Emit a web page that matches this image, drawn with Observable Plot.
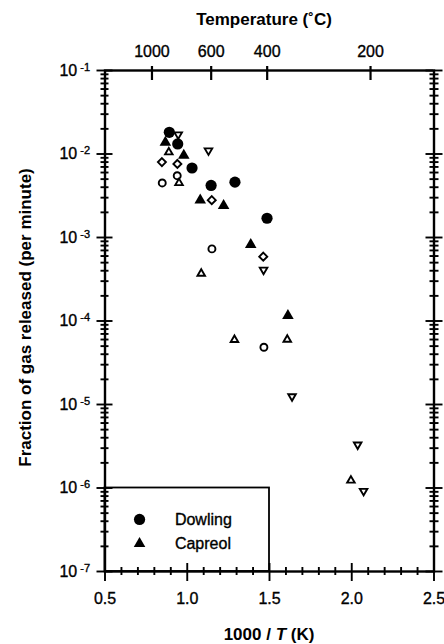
<!DOCTYPE html>
<html><head><meta charset="utf-8">
<script src="https://cdn.jsdelivr.net/npm/d3@7"></script>
<script src="https://cdn.jsdelivr.net/npm/@observablehq/plot@0.6"></script>
<style>body{margin:0;background:#fff} svg{display:block}</style>
</head><body><div id="chart"></div>
<script>
// Data: x = 1000/T (K), y = fraction of gas released per minute
const dowling = [
  {x:0.891, y:1.82e-2}, {x:0.942, y:1.32e-2}, {x:1.029, y:6.8e-3},
  {x:1.145, y:4.2e-3}, {x:1.290, y:4.6e-3}, {x:1.485, y:1.7e-3}
];
const capreol = [
  {x:0.867, y:1.38e-2}, {x:0.979, y:9.6e-3}, {x:1.079, y:2.8e-3},
  {x:1.221, y:2.4e-3}, {x:1.386, y:8.2e-4}, {x:1.612, y:1.16e-4}
];
const openCircles = [
  {x:0.848, y:4.5e-3}, {x:0.939, y:5.5e-3}, {x:1.150, y:7.3e-4}, {x:1.466, y:4.85e-5}
];
const openDiamonds = [
  {x:0.846, y:8.0e-3}, {x:0.940, y:7.6e-3}, {x:1.149, y:2.8e-3}, {x:1.462, y:5.9e-4}
];
const openUpTriangles = [
  {x:0.888, y:1.05e-2}, {x:0.950, y:4.5e-3}, {x:1.085, y:3.7e-4},
  {x:1.287, y:5.96e-5}, {x:1.608, y:6.0e-5}, {x:1.995, y:1.23e-6}
];
const openDownTriangles = [
  {x:0.945, y:1.71e-2}, {x:1.129, y:1.10e-2}, {x:1.464, y:4.1e-4},
  {x:1.637, y:1.25e-5}, {x:2.036, y:3.3e-6}, {x:2.072, y:9.2e-7}
];

// Tick labels / positions
const xMajor = [0.5, 1.0, 1.5, 2.0, 2.5];
const xMinor = [0.6,0.7,0.8,0.9,1.1,1.2,1.3,1.4,1.6,1.7,1.8,1.9,2.1,2.2,2.3,2.4];
const yMajor = [1e-1, 1e-2, 1e-3, 1e-4, 1e-5, 1e-6, 1e-7];
const yMinorMantissa = [2,3,4,5,6,7,8,9];
const yMinor = yMajor.slice(1).flatMap(p => yMinorMantissa.map(k => k * p));
const tempTicks = [1000, 600, 400, 200]; // degrees C
const tempVals = tempTicks.map(t => 1000 / (t + 273));

// Legend
const legendBox = [{x1:0.5, x2:1.5, y1:1e-7, y2:1e-6}];
const legendItems = [
  {label:"Dowling", x:0.71, tx:0.925, y:4.2e-7},
  {label:"Capreol", x:0.71, tx:0.925, y:2.16e-7}
];

const titleTop = "Temperature (˚C)";
const titleY = "Fraction of gas released (per minute)";

const W = 444, H = 644;
const mL = 104.5, mR = 10.5, mT = 70, mB = 73;
const FW = W - mL - mR, FH = H - mT - mB;

const downTriangle = {
  draw(ctx, size) {
    const s = Math.sqrt(size) * 0.6824, t = s / 2, u = s * Math.sqrt(3) / 2;
    ctx.moveTo(0, s); ctx.lineTo(-u, -t); ctx.lineTo(u, -t); ctx.closePath();
  }
};

const font = "Liberation Sans, Arial, Helvetica, sans-serif";
const sw = 1.9;
const osw = 1.9;

const chart = Plot.plot({
  width: W, height: H,
  marginLeft: mL, marginRight: mR, marginTop: mT, marginBottom: mB,
  style: {fontFamily: font, fontSize: "16px", color: "black", background: "white"},
  x: {domain: [0.5, 2.5]},
  y: {type: "log", domain: [1e-7, 1e-1]},
  marks: [
    // bottom axis
    Plot.axisX(xMajor, {anchor: "bottom", tickSize: 10, tickPadding: 11, tickFormat: d3.format(".1f"), strokeWidth: sw, fontSize: 16, label: null}),
    Plot.axisX(xMinor, {anchor: "bottom", tickSize: 4, tickFormat: () => "", strokeWidth: sw, label: null}),
    Plot.tickX(xMajor, {x: d => d, insetTop: FH - 8, strokeWidth: sw}),
    Plot.tickX(xMinor, {x: d => d, insetTop: FH - 4, strokeWidth: sw}),
    // top axis (temperature)
    Plot.axisX(tempVals, {anchor: "top", tickSize: 5, tickPadding: 9, tickFormat: v => String(Math.round(1000 / v - 273)), strokeWidth: 2.2, fontSize: 16, label: null}),
    Plot.tickX(tempVals, {x: d => d, insetBottom: FH - 10, strokeWidth: 2.2}),
    // left axis
    Plot.axisY(yMajor, {anchor: "left", tickSize: 8, tickPadding: 7, tickFormat: d => String(Math.round(Math.log10(d))), strokeWidth: sw, fontSize: 16, label: null}),
    Plot.axisY(yMinor, {anchor: "left", tickSize: 4, tickFormat: () => "", strokeWidth: sw, label: null}),
    Plot.tickY(yMajor, {y: d => d, insetRight: FW - 8, strokeWidth: sw}),
    Plot.tickY(yMinor, {y: d => d, insetRight: FW - 4, strokeWidth: sw}),
    // right axis
    Plot.axisY(yMajor, {anchor: "right", tickSize: 8, tickFormat: () => "", strokeWidth: sw, label: null}),
    Plot.axisY(yMinor, {anchor: "right", tickSize: 4, tickFormat: () => "", strokeWidth: sw, label: null}),
    Plot.tickY(yMajor, {y: d => d, insetLeft: FW - 8, strokeWidth: sw}),
    Plot.tickY(yMinor, {y: d => d, insetLeft: FW - 4, strokeWidth: sw}),
    // legend box
    Plot.rect(legendBox, {x1: "x1", x2: "x2", y1: "y1", y2: "y2", fill: "none", stroke: "black", strokeWidth: 1.8}),
    Plot.frame({stroke: "black", strokeWidth: 2.4}),
    // data
    Plot.dot(openCircles, {x: "x", y: "y", symbol: "circle", r: 3.5, stroke: "black", strokeWidth: osw, fill: "white"}),
    Plot.dot(openDiamonds, {x: "x", y: "y", symbol: "diamond2", r: 3.6, stroke: "black", strokeWidth: osw, fill: "white"}),
    Plot.dot(openUpTriangles, {x: "x", y: "y", symbol: "triangle2", r: 3.6, stroke: "black", strokeWidth: osw, fill: "white"}),
    Plot.dot(openDownTriangles, {x: "x", y: "y", symbol: downTriangle, r: 3.6, stroke: "black", strokeWidth: osw, fill: "white"}),
    Plot.dot(dowling, {x: "x", y: "y", symbol: "circle", r: 5.6, fill: "black"}),
    Plot.dot(capreol, {x: "x", y: "y", symbol: "triangle", r: 4.3, fill: "black"}),
    // legend entries
    Plot.dot(legendItems.slice(0, 1), {x: "x", y: "y", symbol: "circle", r: 5.6, fill: "black"}),
    Plot.dot(legendItems.slice(1, 2), {x: "x", y: "y", symbol: "triangle", r: 4.3, fill: "black"}),
    Plot.text(legendItems, {x: "tx", y: "y", text: "label", textAnchor: "start", fontSize: 16, fill: "black", stroke: "black", strokeWidth: 0.35})
  ]
});

document.getElementById("chart").appendChild(chart);

const svg = d3.select(chart);
// heavier tick labels like the printed figure
svg.selectAll('g[aria-label$="tick label"] text').attr("stroke", "black").attr("stroke-width", 0.35);
// superscript exponents on y tick labels
svg.selectAll('g[aria-label="y-axis tick label"] text').each(function() {
  const t = d3.select(this);
  const e = t.text();
  if (!e) return;
  t.text("");
  t.append("tspan").text("10");
  t.append("tspan").attr("dx", "3").attr("dy", "-0.45em").attr("font-size", "11px").text(e);
});

const xs = chart.scale("x");
const cx = (xs.range[0] + xs.range[1]) / 2;
const ys = chart.scale("y");
const cy = (ys.range[0] + ys.range[1]) / 2;

svg.append("text").attr("x", cx - 5).attr("y", 25).attr("text-anchor", "middle")
  .attr("font-family", font).attr("font-size", 17).attr("font-weight", "bold").text(titleTop);

const bt = svg.append("text").attr("x", cx).attr("y", 640).attr("text-anchor", "middle")
  .attr("font-family", font).attr("font-size", 17).attr("font-weight", "bold");
bt.append("tspan").text("1000 / ");
bt.append("tspan").attr("font-style", "italic").text("T");
bt.append("tspan").text(" (K)");

svg.append("text").attr("transform", `translate(25,${cy - 3}) rotate(-90)`).attr("dy", "0.35em")
  .attr("text-anchor", "middle").attr("font-family", font).attr("font-size", 17).attr("font-weight", "bold")
  .text(titleY);
</script>
</body></html>
